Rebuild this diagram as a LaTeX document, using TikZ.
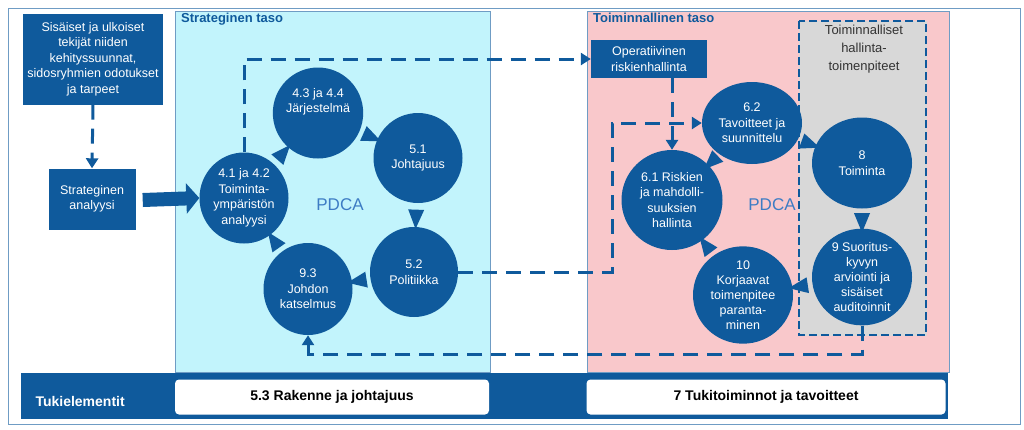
\documentclass[tikz,border=0pt]{standalone}
\usepackage{fontspec}
\setmainfont{Liberation Sans}
\usetikzlibrary{arrows.meta,shapes.geometric}
\definecolor{isoblue}{HTML}{0F5A9C}
\definecolor{strcyan}{HTML}{C2F4FC}
\definecolor{toipink}{HTML}{F9C8CB}
\definecolor{hgray}{HTML}{D8D8D8}
\definecolor{pdcablue}{HTML}{3D7CC4}
\begin{document}
\begin{tikzpicture}[x=1pt,y=-1pt,
  every node/.style = {font=\fontsize{12.5}{15.5}\selectfont, align=center},
  bluebox/.style = {fill=isoblue, text=white, inner sep=2pt},
  phase/.style = {ellipse, fill=isoblue, text=white, inner sep=0pt},
  tri/.style = {isosceles triangle, fill=isoblue, inner sep=0pt,
    minimum width=16pt, minimum height=14pt, sloped, allow upside down},
  dashline/.style = {isoblue, line width=3pt, dash pattern=on 15pt off 9pt},
  tip/.style = {-{Triangle[length=10pt,width=12pt]}},
  paneltitle/.style = {font=\fontsize{13}{15}\selectfont\bfseries, text=isoblue, anchor=north west, inner sep=0pt}
  ]
  \useasboundingbox (0,0) rectangle (1024,429);
  \draw[color=isoblue!60, line width=0.8pt] (8,8) rectangle (1020,424);
  % panels
  \fill[strcyan] (175,11) rectangle (490,372);
  \draw[isoblue!60, line width=0.6pt] (175,11) rectangle (490,372);
  \fill[toipink] (587,11) rectangle (949,372);
  \draw[isoblue!60, line width=0.6pt] (587,11) rectangle (949,372);
  \draw[hgray, fill=hgray] (799,21) rectangle (926,335);
  \draw[isoblue, line width=1.8pt, dash pattern=on 8pt off 4pt] (799,21) rectangle (926,335);
  \node[paneltitle] (strtitle) at (181,13) {Strateginen taso};
  \node[paneltitle] (toititle) at (593,13) {Toiminnallinen taso};
  \node[text=black!80, anchor=north, font=\fontsize{13}{18}\selectfont] (hallinta) at (864,22) {Toiminnalliset\\hallinta-\\toimenpiteet};
  % support bar
  \fill[isoblue] (21,373) rectangle (948,419);
  \node[text=white, font=\fontsize{14}{16}\selectfont\bfseries, anchor=west] (tuki) at (32,401) {Tukielementit};
  \node[fill=white, rounded corners=4pt, minimum width=314pt, minimum height=35pt, font=\fontsize{14}{16}\selectfont\bfseries] (rakenne) at (332,397) {5.3 Rakenne ja johtajuus};
  \node[fill=white, rounded corners=4pt, minimum width=359pt, minimum height=35pt, font=\fontsize{14}{16}\selectfont\bfseries] (tukitoim) at (766,397) {7 Tukitoiminnot ja tavoitteet};
  % boxes
  \node[bluebox, minimum width=140pt, minimum height=91pt] (tekijat) at (93,59) {Sisäiset ja ulkoiset\\tekijät niiden\\kehityssuunnat,\\sidosryhmien odotukset\\ja tarpeet};
  \node[bluebox, minimum width=87pt, minimum height=61pt] (analyysi) at (92,199) {Strateginen\\analyysi};
  \node[bluebox, minimum width=116pt, minimum height=38pt] (operat) at (649,59) {Operatiivinen\\riskienhallinta};
  % strategic circle
  \node[phase, minimum width=89pt, minimum height=91pt] (toimymp) at (244,198) {4.1 ja 4.2\\Toiminta-\\ympäristön\\analyysi};
  \node[phase, minimum width=88pt, minimum height=91pt] (jarj) at (318,113) {4.3 ja 4.4\\Järjestelmä\\[10pt]};
  \node[phase, minimum width=89pt, minimum height=90pt] (johtaj) at (418,158) {5.1\\Johtajuus};
  \node[phase, minimum width=88pt, minimum height=90pt] (polit) at (414,272) {5.2\\Politiikka};
  \node[phase, minimum width=89pt, minimum height=92pt] (katsel) at (308,289) {9.3\\Johdon\\katselmus};
  \node[text=pdcablue, font=\fontsize{17}{19}\selectfont] (pdcal) at (340,205) {PDCA};
  % operational circle
  \node[phase, minimum width=100pt, minimum height=82pt] (tavoit) at (752,123) {6.2\\Tavoitteet ja\\suunnittelu};
  \node[phase, minimum width=100pt, minimum height=91pt] (toiminta) at (862,163) {8\\Toiminta};
  \node[phase, minimum width=100pt, minimum height=91pt, font=\fontsize{12.5}{14.8}\selectfont] (suorit) at (862,277) {9 Suoritus-\\kyvyn\\arviointi ja\\sisäiset\\auditoinnit};
  \node[phase, minimum width=100pt, minimum height=91pt, font=\fontsize{12.5}{15}\selectfont] (korjaa) at (743,295) {10\\Korjaavat\\toimenpitee\\paranta-\\minen};
  \node[phase, minimum width=101pt, minimum height=100pt] (riskit) at (672,200) {6.1 Riskien\\ja mahdolli-\\suuksien\\hallinta};
  \node[text=pdcablue, font=\fontsize{17}{19}\selectfont] (pdcar) at (772,205) {PDCA};
  % cycle arrows
  \foreach \a/\b in {toimymp/jarj, jarj/johtaj, johtaj/polit, polit/katsel, katsel/toimymp,
                     tavoit/toiminta, toiminta/suorit, suorit/korjaa, korjaa/riskit, tavoit/riskit}
    \path (\a) -- node[tri, pos=0.5] {} (\b);
  % flows
  \draw[isoblue, line width=14pt, -{Triangle[length=13pt,width=30pt]}] (analyysi.east)+(7,1) -- (toimymp.west);
  \draw[dashline, tip] (tekijat.south) -- (analyysi.north);
  \draw[dashline, tip] (toimymp.north) |- (operat.west);
  \draw[dashline, tip] (operat.south -| riskit.north) -- (riskit.north);
  \draw[dashline, tip] (polit.east) -- (612,272) |- (tavoit.west);
  \draw[dashline, tip] (suorit.south) -- (862,354) -| (katsel.south);
\end{tikzpicture}
\end{document}
